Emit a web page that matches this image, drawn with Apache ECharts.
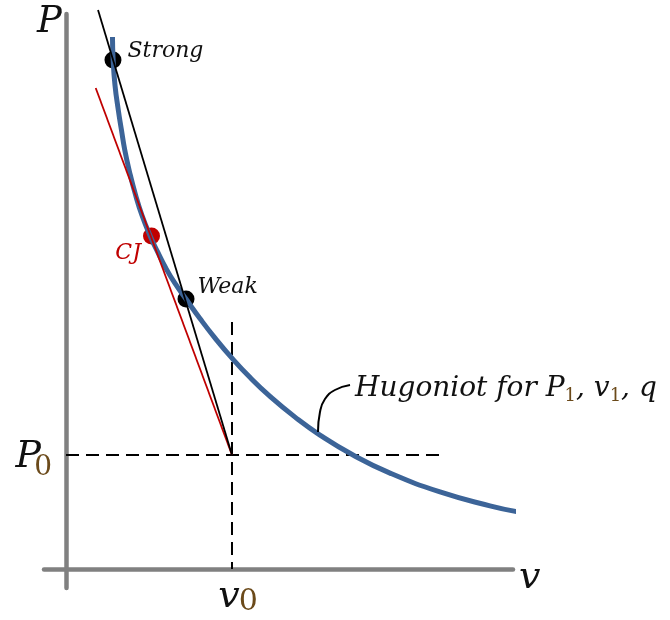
<!DOCTYPE html>
<html>
<head>
<meta charset="utf-8">
<script src="https://cdn.jsdelivr.net/npm/echarts@6.0.0/dist/echarts.min.js"></script>
<style>
  html, body { margin: 0; padding: 0; background: #fff; }
  #chart { width: 670px; height: 620px; }
</style>
</head>
<body>
<div id="chart"></div>
<script>
// Initial state (v0, P0) on the P–v plane
const v0 = 1;
const P0 = 1;

// Axis extents (specific volume v, pressure P)
const vMin = -0.1325, vMax = 2.6928;
const pMin = -0.1667, pMax = 4.868;

// Detonation Hugoniot for P1, v1, q
const hugoniotV = [0.280, 0.284, 0.295, 0.315, 0.334, 0.354, 0.383, 0.419, 0.457, 0.507, 0.552, 0.601, 0.655,
                   0.723, 0.807, 0.898, 1.000, 1.108, 1.229, 1.380, 1.530, 1.729, 1.952, 2.253, 2.554, 2.717];
const hugoniotP = [4.667, 4.465, 4.246, 4.026, 3.851, 3.675, 3.482, 3.281, 3.105, 2.921, 2.781, 2.640, 2.509,
                   2.368, 2.197, 2.025, 1.849, 1.681, 1.514, 1.332, 1.175, 1.000, 0.841, 0.676, 0.554, 0.502];

// Rayleigh lines drawn from the initial state
const rayleighV = [0.193, v0];
const rayleighP = [4.904, P0];
const cjRayV = [0.179, v0];
const cjRayP = [4.219, P0];

// Marked end states
const stateNames = ['Strong', 'CJ', 'Weak'];
const stateV = [0.283, 0.515, 0.723];
const stateP = [4.465, 2.921, 2.368];

// Reference dashed lines through the initial state
const isobarEndV = 2.253;
const isochoreTopP = 2.167;

// Leader from the curve to its caption
const leaderV = [1.518, 1.530, 1.560, 1.620, 1.711];
const leaderP = [1.202, 1.377, 1.491, 1.570, 1.614];

const zip = (xs, ys) => xs.map((x, i) => [x, ys[i]]);

const serif = 'DejaVu Serif';
const ink = '#111111';
const subInk = '#6b4a1a';
const red = '#c00000';
const blue = '#3c6498';
const axisGray = '#808080';

// Rich styles for the subscripted axis labels v0 and P0
const vRich = {
  i: { fontFamily: serif, fontStyle: 'italic', fontSize: 38, color: ink, verticalAlign: 'top', lineHeight: 40, padding: [0, 0, 0, 12] },
  s: { fontFamily: serif, fontSize: 30, color: subInk, verticalAlign: 'top', lineHeight: 30, padding: [9, 0, 0, -1] }
};
const pRich = {
  i: { fontFamily: serif, fontStyle: 'italic', fontSize: 38, color: ink, verticalAlign: 'top', lineHeight: 34 },
  s: { fontFamily: serif, fontSize: 28, color: subInk, verticalAlign: 'top', lineHeight: 28, padding: [16, 0, 0, -7] }
};

const chart = echarts.init(document.getElementById('chart'), null, { renderer: 'canvas' });

const stateColors = ['#000000', red, '#000000'];
const stateLabels = [
  { position: 'right', distance: 6, offset: [0, -9], color: ink },
  { position: 'left', distance: 2, offset: [0, 17], color: red },
  { position: 'right', distance: 3, offset: [0, -12], color: ink }
];

chart.setOption({
  animation: false,
  backgroundColor: '#ffffff',
  grid: { left: 44, right: 157, top: 14, bottom: 32, containLabel: false, outerBoundsMode: 'none' },
  xAxis: {
    type: 'value', min: vMin, max: vMax,
    axisLine: { show: true, onZero: true, lineStyle: { color: axisGray, width: 4.5 } },
    axisTick: { show: false }, splitLine: { show: false },
    axisLabel: {
      show: true, customValues: [v0], margin: -10,
      formatter: () => '{i|v}{s|0}', rich: vRich
    },
    name: 'v', nameLocation: 'end', nameGap: 6,
    nameTextStyle: { fontFamily: serif, fontStyle: 'italic', fontSize: 38, color: ink, verticalAlign: 'top', lineHeight: 18 }
  },
  yAxis: {
    type: 'value', min: pMin, max: pMax,
    axisLine: { show: true, onZero: true, lineStyle: { color: axisGray, width: 4.5 } },
    axisTick: { show: false }, splitLine: { show: false },
    axisLabel: {
      show: true, customValues: [P0], margin: -8,
      formatter: () => '{i|P}{s|0}', rich: pRich
    },
    name: 'P', nameLocation: 'end', nameGap: -8,
    nameTextStyle: { fontFamily: serif, fontStyle: 'italic', fontSize: 37, color: ink, align: 'right', verticalAlign: 'middle', padding: [0, 4, 0, 0] }
  },
  series: [
    {
      name: 'isobar', type: 'line', symbol: 'none', silent: true,
      data: [[0, P0], [isobarEndV, P0]],
      lineStyle: { color: '#000', width: 2, type: [13, 7] }
    },
    {
      name: 'isochore', type: 'line', symbol: 'none', silent: true,
      data: [[v0, isochoreTopP], [v0, 0]],
      lineStyle: { color: '#000', width: 2, type: [13, 7] }
    },
    {
      name: 'Hugoniot', type: 'line', symbol: 'none', silent: true, smooth: 0.5,
      data: zip(hugoniotV, hugoniotP),
      lineStyle: { color: blue, width: 5, cap: 'butt' }
    },
    {
      name: 'CJ Rayleigh', type: 'line', symbol: 'none', silent: true, clip: false,
      data: zip(cjRayV, cjRayP),
      lineStyle: { color: red, width: 1.8 }
    },
    {
      name: 'Rayleigh', type: 'line', symbol: 'none', silent: true, clip: false,
      data: zip(rayleighV, rayleighP),
      lineStyle: { color: '#000', width: 1.8 }
    },
    {
      name: 'leader', type: 'line', symbol: 'none', silent: true, smooth: 0.5,
      data: zip(leaderV, leaderP),
      lineStyle: { color: '#000', width: 2 },
      endLabel: {
        show: true, distance: 5, offset: [0, 5],
        formatter: () => '{t|Hugoniot for P}{s|1}{t|, v}{s|1}{t|, q}',
        rich: {
          t: { fontFamily: serif, fontStyle: 'italic', fontSize: 28, color: ink, verticalAlign: 'top', lineHeight: 30 },
          s: { fontFamily: serif, fontSize: 18, color: subInk, verticalAlign: 'top', lineHeight: 20, padding: [12, 0, 0, 0] }
        }
      }
    },
    {
      name: 'states', type: 'scatter', silent: true, symbolSize: 17,
      itemStyle: { opacity: 1 },
      data: stateNames.map((n, i) => ({
        name: n,
        value: [stateV[i], stateP[i]],
        itemStyle: { color: stateColors[i], opacity: 1 },
        label: Object.assign({
          show: true, formatter: '{b}', opacity: 1,
          fontFamily: serif, fontStyle: 'italic', fontSize: 22
        }, stateLabels[i])
      }))
    }
  ]
});
</script>
</body>
</html>
